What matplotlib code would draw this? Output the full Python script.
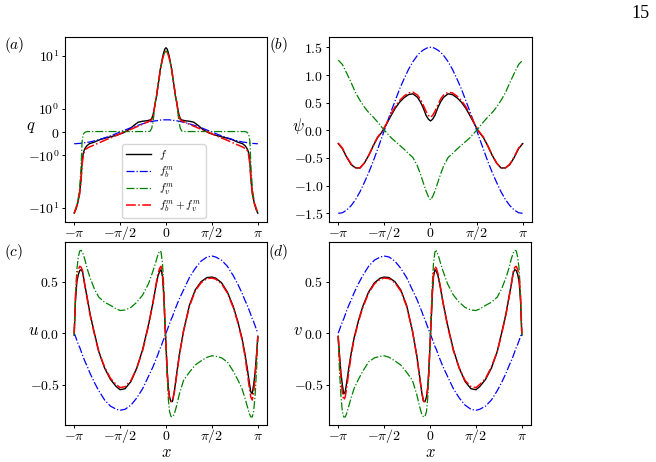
import numpy as np
import matplotlib
matplotlib.use("Agg")
import matplotlib.pyplot as plt
from matplotlib.ticker import FixedLocator, FixedFormatter, NullLocator

plt.rcParams['mathtext.fontset'] = 'cm'
plt.rcParams['font.family'] = ['DejaVu Sans']

# ---------------- data ----------------
xa = [-3.1416, -3.08, -3.02, -2.96, -2.91, -2.87, -2.83, -2.79, -2.75, -2.70, -2.62, -2.45,
      -2.25, -2.05, -1.85, -1.65, -1.45, -1.25, -1.10, -0.95, -0.80, -0.66, -0.55, -0.49,
      -0.44, -0.40, -0.36, -0.32, -0.28, -0.24, -0.20, -0.16, -0.12, -0.08, -0.04, 0.0,
      0.04, 0.08, 0.12, 0.16, 0.20, 0.24, 0.28, 0.32, 0.36, 0.40, 0.44, 0.49, 0.55, 0.66,
      0.80, 0.95, 1.10, 1.25, 1.45, 1.65, 1.85, 2.05, 2.25, 2.45, 2.62, 2.70, 2.75, 2.79,
      2.83, 2.87, 2.91, 2.96, 3.02, 3.08, 3.1416]
q_f = [-12.5, -10.5, -8.0, -5.5, -3.0, -1.3, -0.9, -0.75, -0.66, -0.58, -0.50, -0.43,
       -0.32, -0.25, -0.19, -0.12, -0.03, 0.12, 0.28, 0.42, 0.46, 0.48, 0.51, 0.57,
       0.75, 1.0, 1.35, 1.75, 2.6, 3.6, 5.4, 7.0, 9.3, 11.5, 13.5, 14.3,
       13.5, 11.5, 9.3, 7.0, 5.4, 3.6, 2.6, 1.75, 1.35, 1.0, 0.75, 0.57, 0.51, 0.48,
       0.46, 0.42, 0.28, 0.12, -0.03, -0.12, -0.19, -0.25, -0.32, -0.43, -0.50, -0.58,
       -0.66, -0.75, -0.9, -1.3, -3.0, -5.5, -8.0, -10.5, -12.5]
q_b = [-0.50, -0.50, -0.49, -0.49, -0.48, -0.47, -0.47, -0.46, -0.45, -0.44, -0.43, -0.38,
       -0.31, -0.23, -0.14, -0.04, 0.06, 0.16, 0.23, 0.29, 0.35, 0.40, 0.43, 0.45,
       0.46, 0.47, 0.48, 0.48, 0.49, 0.50, 0.51, 0.51, 0.52, 0.52, 0.52, 0.52,
       0.52, 0.52, 0.52, 0.51, 0.51, 0.50, 0.49, 0.48, 0.48, 0.47, 0.46, 0.45, 0.43, 0.40,
       0.35, 0.29, 0.23, 0.16, 0.06, -0.04, -0.14, -0.23, -0.31, -0.38, -0.43, -0.44,
       -0.45, -0.46, -0.47, -0.47, -0.48, -0.49, -0.49, -0.50, -0.50]
q_v = [-12.5, -10.0, -7.5, -4.5, -1.8, -0.4, -0.1, -0.03, 0.0, 0.02, 0.02, 0.02,
       0.02, 0.02, 0.02, 0.02, 0.02, 0.02, 0.02, 0.02, 0.02, 0.02, 0.03, 0.15,
       0.45, 0.9, 1.4, 1.8, 2.6, 3.6, 5.2, 6.8, 8.6, 10.3, 11.8, 12.4,
       11.8, 10.3, 8.6, 6.8, 5.2, 3.6, 2.6, 1.8, 1.4, 0.9, 0.45, 0.15, 0.03, 0.02,
       0.02, 0.02, 0.02, 0.02, 0.02, 0.02, 0.02, 0.02, 0.02, 0.02, 0.02, 0.02,
       0.0, -0.03, -0.1, -0.4, -1.8, -4.5, -7.5, -10.0, -12.5]
q_bv = [-12.5, -10.0, -8.0, -5.5, -3.2, -1.5, -1.0, -0.82, -0.74, -0.70, -0.64, -0.55,
        -0.44, -0.33, -0.23, -0.12, -0.01, 0.09, 0.17, 0.25, 0.33, 0.41, 0.47, 0.52,
        0.70, 1.0, 1.4, 1.8, 2.6, 3.6, 5.2, 6.8, 8.6, 10.3, 11.8, 12.4,
        11.8, 10.3, 8.6, 6.8, 5.2, 3.6, 2.6, 1.8, 1.4, 1.0, 0.70, 0.52, 0.47, 0.41,
        0.33, 0.25, 0.17, 0.09, -0.01, -0.12, -0.23, -0.33, -0.44, -0.55, -0.64, -0.70,
        -0.74, -0.82, -1.0, -1.5, -3.2, -5.5, -8.0, -10.0, -12.5]

xb = [-3.1416, -3.0, -2.85, -2.7, -2.55, -2.4, -2.25, -2.1, -1.95, -1.8, -1.65, -1.5,
      -1.35, -1.2, -1.05, -0.9, -0.75, -0.6, -0.45, -0.35, -0.25, -0.15, -0.07, 0.0,
      0.07, 0.15, 0.25, 0.35, 0.45, 0.6, 0.75, 0.9, 1.05, 1.2, 1.35, 1.5,
      1.65, 1.8, 1.95, 2.1, 2.25, 2.4, 2.55, 2.7, 2.85, 3.0, 3.1416]
psi_f = [-0.24, -0.33, -0.49, -0.62, -0.68, -0.68, -0.59, -0.45, -0.28, -0.13, -0.03, 0.11,
         0.26, 0.40, 0.51, 0.59, 0.645, 0.66, 0.60, 0.52, 0.41, 0.27, 0.20, 0.17,
         0.20, 0.27, 0.41, 0.52, 0.60, 0.66, 0.645, 0.59, 0.51, 0.40, 0.26, 0.11,
         -0.03, -0.13, -0.28, -0.45, -0.59, -0.68, -0.68, -0.62, -0.49, -0.33, -0.24]
psi_b = [-1.50, -1.49, -1.44, -1.36, -1.25, -1.11, -0.94, -0.76, -0.56, -0.34, -0.12, 0.11,
         0.33, 0.54, 0.75, 0.93, 1.10, 1.24, 1.35, 1.41, 1.45, 1.48, 1.50, 1.50,
         1.50, 1.48, 1.45, 1.41, 1.35, 1.24, 1.10, 0.93, 0.75, 0.54, 0.33, 0.11,
         -0.12, -0.34, -0.56, -0.76, -0.94, -1.11, -1.25, -1.36, -1.44, -1.49, -1.50]
psi_v = [1.27, 1.19, 1.03, 0.86, 0.68, 0.54, 0.42, 0.32, 0.24, 0.15, 0.05, -0.04,
         -0.13, -0.20, -0.27, -0.34, -0.42, -0.49, -0.64, -0.78, -0.94, -1.10, -1.20, -1.26,
         -1.20, -1.10, -0.94, -0.78, -0.64, -0.49, -0.42, -0.34, -0.27, -0.20, -0.13, -0.04,
         0.05, 0.15, 0.24, 0.32, 0.42, 0.54, 0.68, 0.86, 1.03, 1.19, 1.27]
psi_bv = [-0.23, -0.32, -0.48, -0.61, -0.68, -0.68, -0.59, -0.45, -0.28, -0.12, -0.02, 0.12,
          0.29, 0.43, 0.54, 0.62, 0.675, 0.69, 0.64, 0.57, 0.46, 0.34, 0.27, 0.235,
          0.27, 0.34, 0.46, 0.57, 0.64, 0.69, 0.675, 0.62, 0.54, 0.43, 0.29, 0.12,
          -0.02, -0.12, -0.28, -0.45, -0.59, -0.68, -0.68, -0.61, -0.48, -0.32, -0.23]

xc = [-3.1416, -3.10, -3.05, -3.00, -2.95, -2.90, -2.85, -2.78, -2.70, -2.60, -2.45, -2.30,
      -2.10, -1.90, -1.70, -1.57, -1.40, -1.20, -1.00, -0.80, -0.60, -0.45, -0.35, -0.28,
      -0.22, -0.17, -0.12, -0.08, -0.04, 0.0, 0.04, 0.08, 0.12, 0.17, 0.22, 0.28, 0.35,
      0.45, 0.60, 0.80, 1.00, 1.20, 1.40, 1.57, 1.70, 1.90, 2.10, 2.30, 2.45, 2.60, 2.70,
      2.78, 2.85, 2.90, 2.95, 3.00, 3.05, 3.10, 3.1416]
u_f = [-0.02, 0.30, 0.50, 0.57, 0.61, 0.617, 0.59, 0.47, 0.35, 0.19, 0.00, -0.18,
       -0.34, -0.45, -0.52, -0.55, -0.54, -0.47, -0.34, -0.16, 0.08, 0.29, 0.45, 0.55,
       0.60, 0.617, 0.55, 0.38, 0.12, -0.12, -0.36, -0.53, -0.62, -0.665, -0.665, -0.58,
       -0.43, -0.22, 0.02, 0.27, 0.42, 0.50, 0.54, 0.545, 0.535, 0.49, 0.40, 0.26, 0.12,
       -0.05, -0.20, -0.34, -0.48, -0.57, -0.59, -0.50, -0.38, -0.20, -0.03]
u_b = [0.0, -0.03, -0.07, -0.11, -0.14, -0.18, -0.22, -0.27, -0.32, -0.39, -0.48, -0.56,
       -0.65, -0.71, -0.74, -0.75, -0.74, -0.70, -0.63, -0.54, -0.42, -0.33, -0.26, -0.21,
       -0.16, -0.13, -0.09, -0.06, -0.03, 0.0, 0.03, 0.06, 0.09, 0.13, 0.16, 0.21, 0.26,
       0.33, 0.42, 0.54, 0.63, 0.70, 0.74, 0.75, 0.74, 0.71, 0.65, 0.56, 0.48, 0.39, 0.32,
       0.27, 0.22, 0.18, 0.14, 0.11, 0.07, 0.03, 0.0]
u_v = [-0.02, 0.35, 0.62, 0.74, 0.80, 0.805, 0.78, 0.72, 0.63, 0.54, 0.43, 0.35,
       0.30, 0.27, 0.235, 0.22, 0.225, 0.25, 0.30, 0.37, 0.48, 0.60, 0.69, 0.76,
       0.80, 0.79, 0.68, 0.48, 0.18, -0.12, -0.42, -0.64, -0.76, -0.81, -0.815, -0.79,
       -0.72, -0.60, -0.46, -0.38, -0.31, -0.27, -0.235, -0.22, -0.225, -0.24, -0.28, -0.37,
       -0.45, -0.54, -0.63, -0.71, -0.78, -0.815, -0.815, -0.76, -0.60, -0.35, -0.03]
u_bv = [0.0, 0.35, 0.55, 0.62, 0.65, 0.64, 0.60, 0.47, 0.34, 0.18, -0.01, -0.18,
        -0.33, -0.44, -0.50, -0.53, -0.52, -0.46, -0.34, -0.17, 0.07, 0.29, 0.46, 0.57,
        0.63, 0.65, 0.58, 0.41, 0.14, -0.12, -0.38, -0.55, -0.63, -0.665, -0.66, -0.58,
        -0.44, -0.23, 0.02, 0.26, 0.41, 0.49, 0.53, 0.535, 0.525, 0.48, 0.39, 0.25, 0.11,
        -0.06, -0.22, -0.38, -0.53, -0.62, -0.65, -0.58, -0.42, -0.22, -0.03]

v_f = [-0.03, -0.20, -0.38, -0.50, -0.59, -0.57, -0.48, -0.34, -0.20, -0.05, 0.12, 0.26,
       0.40, 0.49, 0.535, 0.545, 0.54, 0.50, 0.42, 0.27, 0.02, -0.22, -0.43, -0.58,
       -0.665, -0.665, -0.62, -0.53, -0.36, -0.12, 0.12, 0.38, 0.55, 0.617, 0.60, 0.55,
       0.45, 0.29, 0.08, -0.16, -0.34, -0.47, -0.54, -0.55, -0.52, -0.45, -0.34, -0.18,
       0.00, 0.19, 0.35, 0.47, 0.59, 0.617, 0.61, 0.57, 0.50, 0.30, -0.02]
v_b = [0.0, 0.03, 0.07, 0.11, 0.14, 0.18, 0.22, 0.27, 0.32, 0.39, 0.48, 0.56,
       0.65, 0.71, 0.74, 0.75, 0.74, 0.70, 0.63, 0.54, 0.42, 0.33, 0.26, 0.21,
       0.16, 0.13, 0.09, 0.06, 0.03, 0.0, -0.03, -0.06, -0.09, -0.13, -0.16, -0.21, -0.26,
       -0.33, -0.42, -0.54, -0.63, -0.70, -0.74, -0.75, -0.74, -0.71, -0.65, -0.56, -0.48,
       -0.39, -0.32, -0.27, -0.22, -0.18, -0.14, -0.11, -0.07, -0.03, 0.0]
v_v = [-0.03, -0.35, -0.60, -0.76, -0.815, -0.815, -0.78, -0.71, -0.63, -0.54, -0.45, -0.37,
       -0.28, -0.24, -0.225, -0.22, -0.235, -0.27, -0.31, -0.38, -0.46, -0.60, -0.72, -0.79,
       -0.815, -0.81, -0.76, -0.64, -0.42, -0.12, 0.18, 0.48, 0.68, 0.79, 0.80, 0.76,
       0.69, 0.60, 0.48, 0.37, 0.30, 0.25, 0.225, 0.22, 0.235, 0.27, 0.30, 0.35,
       0.43, 0.54, 0.63, 0.72, 0.78, 0.805, 0.80, 0.74, 0.62, 0.35, -0.02]
v_bv = [-0.03, -0.22, -0.42, -0.58, -0.65, -0.62, -0.53, -0.38, -0.22, -0.06, 0.11, 0.25,
        0.39, 0.48, 0.525, 0.535, 0.53, 0.49, 0.41, 0.26, 0.02, -0.23, -0.44, -0.58,
        -0.66, -0.665, -0.63, -0.55, -0.38, -0.12, 0.14, 0.41, 0.58, 0.65, 0.63, 0.57,
        0.46, 0.29, 0.07, -0.17, -0.34, -0.46, -0.52, -0.53, -0.50, -0.44, -0.33, -0.18,
        -0.01, 0.18, 0.34, 0.47, 0.60, 0.64, 0.65, 0.62, 0.55, 0.35, 0.0]

xticks = [-np.pi, -np.pi / 2, 0, np.pi / 2, np.pi]
xticklabels = [r'$-\pi$', r'$-\pi/2$', r'$0$', r'$\pi/2$', r'$\pi$']
legend_labels = [r'$f$', r'$f_b^m$', r'$f_v^m$', r'$f_b^m+f_v^m$']

# ---------------- figure ----------------
W, H = 656, 462
fig = plt.figure(figsize=(W / 100, H / 100), dpi=100)


def px_axes(l, t, r, b):
    return fig.add_axes([l / W, 1 - b / H, (r - l) / W, (b - t) / H])


axA = px_axes(65, 37, 267, 222)
axB = px_axes(329, 37, 532, 222)
axC = px_axes(65, 242, 267, 425)
axD = px_axes(329, 242, 531, 425)

TFS = 10


def draw(ax, x, f, b, v, bv):
    ax.plot(x, f, color='k', lw=1.0, ls='-', label=legend_labels[0])
    ax.plot(x, b, color='b', lw=0.9, ls='-.', label=legend_labels[1])
    ax.plot(x, v, color='g', lw=0.9, ls='-.', label=legend_labels[2])
    ax.plot(x, bv, color='r', lw=1.1, ls='-.', label=legend_labels[3])
    ax.set_xticks(xticks)
    ax.set_xticklabels(xticklabels, fontsize=TFS)
    ax.xaxis.set_minor_locator(NullLocator())
    ax.yaxis.set_minor_locator(NullLocator())
    ax.tick_params(labelsize=TFS, length=2.5, width=0.7)
    ax.tick_params(axis='y', pad=1.5)
    ax.tick_params(axis='x', pad=8.3)
    for lbl in ax.get_xticklabels():
        lbl.set_verticalalignment('baseline')
    for s in ax.spines.values():
        s.set_linewidth(0.8)


draw(axA, xa, q_f, q_b, q_v, q_bv)
axA.set_yscale('symlog', linthresh=1.0, linscale=0.4)
axA.set_ylim(-18.4, 22.9)
axA.yaxis.set_major_locator(FixedLocator([-10, -1, 0, 1, 10]))
axA.yaxis.set_major_formatter(FixedFormatter([r'$-10^1$', r'$-10^0$', r'$0$', r'$10^0$', r'$10^1$']))
axA.yaxis.set_minor_locator(NullLocator())
axA.legend(loc='lower center', fontsize=8, bbox_to_anchor=(0.49, 0.0), handlelength=2.2,
           borderaxespad=0.35, labelspacing=0.18, borderpad=0.35, handletextpad=0.8)

draw(axB, xb, psi_f, psi_b, psi_v, psi_bv)
axB.set_ylim(-1.657, 1.687)
yb = [-1.5, -1.0, -0.5, 0.0, 0.5, 1.0, 1.5]
axB.yaxis.set_major_locator(FixedLocator(yb))
axB.yaxis.set_major_formatter(FixedFormatter([r'$%.1f$' % t for t in yb]))

yc = [-0.5, 0.0, 0.5]
for ax, f, b, v, bv in [(axC, u_f, u_b, u_v, u_bv), (axD, v_f, v_b, v_v, v_bv)]:
    draw(ax, xc, f, b, v, bv)
    ax.set_ylim(-0.893, 0.886)
    ax.yaxis.set_major_locator(FixedLocator(yc))
    ax.yaxis.set_major_formatter(FixedFormatter([r'$%.1f$' % t for t in yc]))
    ax.set_xlabel(r'$x$', fontsize=12, va='center')
    ax.xaxis.set_label_coords(0.5, -(452 - 425) / 183)

for ax, lab, xc_ in [(axA, r'$q$', -0.17), (axB, r'$\psi$', -0.153),
                     (axC, r'$u$', -0.158), (axD, r'$v$', -0.153)]:
    ax.set_ylabel(lab, fontsize=12, rotation=0, va='center', ha='center')
    ax.yaxis.set_label_coords(xc_, 0.52)

for (px, py, t) in [(14, 45, r'$(a)$'), (278, 45, r'$(b)$'), (14, 252, r'$(c)$'), (278, 252, r'$(d)$')]:
    fig.text(px / W, 1 - py / H, t, fontsize=11, ha='center', va='center')

fig.text(640 / W, 1 - 13 / H, '15', fontsize=13, ha='center', va='center', family='Liberation Serif')

fig.savefig('out.png', dpi=100)
